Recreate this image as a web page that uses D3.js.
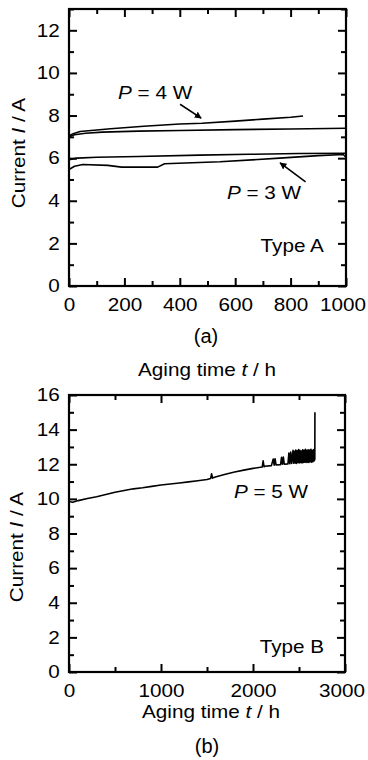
<!DOCTYPE html>
<html>
<head>
<meta charset="utf-8">
<script src="https://cdn.jsdelivr.net/npm/d3@7"></script>
<style>
  body { margin: 0; background: #fff; }
  text { font-family: "Liberation Sans", Arial, Helvetica, sans-serif; }
</style>
</head>
<body>
<div id="root"></div>
<script>
// ---- panel (a): Type A, two lamps at 4 W and 3 W ----
var timeA4hi = [0, 15, 40, 90, 150, 270, 400, 480, 600, 700, 800, 845];
var curA4hi  = [7.05, 7.15, 7.25, 7.31, 7.38, 7.5, 7.6, 7.64, 7.74, 7.83, 7.92, 7.98];

var timeA4lo = [0, 20, 60, 120, 250, 400, 600, 800, 1000];
var curA4lo  = [7.0, 7.1, 7.17, 7.22, 7.27, 7.3, 7.34, 7.37, 7.4];

var timeA3hi = [0, 30, 100, 250, 470, 650, 830, 1000];
var curA3hi  = [5.93, 6.0, 6.04, 6.08, 6.14, 6.18, 6.22, 6.23];

var timeA3lo = [0, 20, 50, 140, 190, 320, 345, 545, 760, 900, 990, 1000];
var curA3lo  = [5.47, 5.62, 5.7, 5.66, 5.58, 5.58, 5.74, 5.83, 6.0, 6.12, 6.17, 6.05];

var xMajorA = [0, 200, 400, 600, 800, 1000];
var xMinorA = [100, 300, 500, 700, 900];
var yMajorA = [0, 2, 4, 6, 8, 10, 12];
var yMinorA = [1, 3, 5, 7, 9, 11, 13];

// ---- panel (b): Type B, 5 W ----
var timeB = [0, 40, 100, 200, 300, 400, 500, 600, 700, 800, 900, 1000, 1100, 1200, 1300, 1400,
  1500, 1540, 1550, 1560, 1600, 1700, 1800, 1900, 2000, 2100, 2110, 2120, 2130, 2200, 2220, 2230,
  2240, 2250, 2300, 2310, 2320, 2330, 2340, 2380, 2390, 2400, 2410, 2420,
  2435, 2442, 2450, 2457, 2465, 2472, 2480, 2487, 2495, 2502, 2510, 2517, 2525, 2532, 2540, 2547,
  2555, 2562, 2570, 2577, 2585, 2592, 2600, 2607, 2615, 2622, 2630, 2637, 2645, 2652, 2660,
  2666, 2672, 2673];
var curB = [9.85, 9.8, 9.9, 10.02, 10.12, 10.25, 10.38, 10.48, 10.58, 10.64, 10.72, 10.8, 10.86, 10.92, 10.98, 11.05,
  11.12, 11.18, 11.45, 11.2, 11.28, 11.42, 11.55, 11.66, 11.76, 11.84, 12.2, 11.86, 11.88, 11.92, 12.3, 11.95,
  12.32, 11.96, 11.98, 12.4, 12.0, 12.42, 12.0, 12.02, 12.65, 12.03, 12.7, 12.05,
  12.8, 12.06, 12.75, 12.08, 12.82, 12.05, 12.78, 12.1, 12.85, 12.07, 12.8, 12.1, 12.76, 12.08, 12.84, 12.1,
  12.8, 12.12, 12.86, 12.1, 12.8, 12.12, 12.84, 12.1, 12.82, 12.14, 12.86, 12.12, 12.8, 12.15, 12.85,
  12.2, 12.3, 15.0];

var xMajorB = [0, 1000, 2000, 3000];
var xMinorB = [500, 1500, 2500];
var yMajorB = [0, 2, 4, 6, 8, 10, 12, 14, 16];
var yMinorB = [1, 3, 5, 7, 9, 11, 13, 15];

var STRETCH = 'scale(1.15,1)';

var svg = d3.select('#root')
  .append('svg')
    .attr('width', 368)
    .attr('height', 760);

svg.append('defs').append('marker')
  .attr('id', 'head')
  .attr('viewBox', '0 0 10 10')
  .attr('refX', 9).attr('refY', 5)
  .attr('markerWidth', 7).attr('markerHeight', 7)
  .attr('markerUnits', 'userSpaceOnUse')
  .attr('orient', 'auto')
  .append('path')
    .attr('d', 'M0,0 L10,5 L0,10 z')
    .attr('fill', '#000');

// text with optional italic pieces: parts = [[str, italic], ...]
function label(g, x, y, parts, anchor, rotate, size) {
  var t = g.append('text')
    .attr('transform', 'translate(' + x + ',' + y + ')' + (rotate ? ' rotate(' + rotate + ')' : '') + ' ' + STRETCH)
    .attr('text-anchor', anchor || 'start')
    .attr('font-size', (size || 18) + 'px')
    .attr('fill', '#000');
  parts.forEach(p => {
    t.append('tspan').attr('font-style', p[1] ? 'italic' : 'normal').text(p[0]);
  });
  return t;
}

function panel(cfg) {
  var x = d3.scaleLinear().domain(cfg.xDomain).range([cfg.left, cfg.right]);
  var y = d3.scaleLinear().domain(cfg.yDomain).range([cfg.bottom, cfg.top]);
  var g = svg.append('g');

  // minor ticks, all four sides, pointing inward
  g.append('g').attr('transform', 'translate(0,' + cfg.bottom + ')')
    .call(d3.axisBottom(x).tickValues(cfg.xMinor).tickSize(-5).tickFormat(''));
  g.append('g').attr('transform', 'translate(0,' + cfg.top + ')')
    .call(d3.axisTop(x).tickValues(cfg.xMinor).tickSize(-5).tickFormat(''));
  g.append('g').attr('transform', 'translate(' + cfg.left + ',0)')
    .call(d3.axisLeft(y).tickValues(cfg.yMinor).tickSize(-5).tickFormat(''));
  g.append('g').attr('transform', 'translate(' + cfg.right + ',0)')
    .call(d3.axisRight(y).tickValues(cfg.yMinor).tickSize(-5).tickFormat(''));

  // major ticks
  g.append('g').attr('class', 'x-axis').attr('transform', 'translate(0,' + cfg.bottom + ')')
    .call(d3.axisBottom(x).tickValues(cfg.xMajor).tickSize(-8).tickPadding(12).tickFormat(d3.format('d')));
  g.append('g').attr('transform', 'translate(0,' + cfg.top + ')')
    .call(d3.axisTop(x).tickValues(cfg.xMajor).tickSize(-8).tickFormat(''));
  g.append('g').attr('class', 'y-axis').attr('transform', 'translate(' + cfg.left + ',0)')
    .call(d3.axisLeft(y).tickValues(cfg.yMajor).tickSize(-8).tickPadding(8).tickFormat(d3.format('d')));
  g.append('g').attr('transform', 'translate(' + cfg.right + ',0)')
    .call(d3.axisRight(y).tickValues(cfg.yMajor).tickSize(-8).tickFormat(''));

  g.selectAll('.domain').remove();
  g.selectAll('.tick line').attr('stroke', '#000').attr('stroke-width', 2);
  g.selectAll('.x-axis text, .y-axis text')
    .attr('font-size', '18px')
    .attr('font-family', '"Liberation Sans", Arial, sans-serif')
    .attr('fill', '#000')
    .attr('transform', STRETCH);
  // the last x label sits at the page edge: nudge it inward a little
  g.selectAll('.x-axis .tick text')
    .filter(d => d === cfg.xDomain[1])
    .attr('x', -3);

  g.append('rect')
    .attr('x', cfg.left).attr('y', cfg.top)
    .attr('width', cfg.right - cfg.left).attr('height', cfg.bottom - cfg.top)
    .attr('fill', 'none').attr('stroke', '#000').attr('stroke-width', 2.2);

  return { g: g, x: x, y: y };
}

function curve(p, times, values, w) {
  var line = d3.line().x(d => p.x(d[0])).y(d => p.y(d[1]));
  p.g.append('path')
    .datum(d3.zip(times, values))
    .attr('d', line)
    .attr('fill', 'none')
    .attr('stroke', '#000')
    .attr('stroke-width', w || 1.6)
    .attr('stroke-linejoin', 'round');
}

function arrow(p, t0, i0, t1, i1) {
  p.g.append('line')
    .attr('x1', p.x(t0)).attr('y1', p.y(i0))
    .attr('x2', p.x(t1)).attr('y2', p.y(i1))
    .attr('stroke', '#000').attr('stroke-width', 1.6)
    .attr('marker-end', 'url(#head)');
}

// ---- (a) ----
var a = panel({
  xDomain: [0, 1000], yDomain: [0, 13],
  left: 69, right: 346, top: 9, bottom: 286,
  xMajor: xMajorA, xMinor: xMinorA, yMajor: yMajorA, yMinor: yMinorA
});
curve(a, timeA4hi, curA4hi);
curve(a, timeA4lo, curA4lo);
curve(a, timeA3hi, curA3hi);
curve(a, timeA3lo, curA3lo);

label(a.g, a.x(177), a.y(8.77), [['P', true], [' = 4 W', false]]);
arrow(a, 401, 8.53, 477, 7.88);
label(a.g, a.x(570), a.y(4.08), [['P', true], [' = 3 W', false]]);
arrow(a, 854, 4.89, 762, 5.78);
label(a.g, a.x(920), a.y(1.59), [['Type A', false]], 'end');

label(svg, 25, 153, [['Current ', false], ['I', true], [' / A', false]], 'middle', -90);
label(svg, 207, 376, [['Aging time ', false], ['t', true], [' / h', false]], 'middle');
svg.append('text')
  .attr('x', 206).attr('y', 343)
  .attr('text-anchor', 'middle')
  .attr('font-family', '"Liberation Serif", "Times New Roman", serif')
  .attr('font-size', '20px')
  .text('(a)');

// ---- (b) ----
var b = panel({
  xDomain: [0, 3000], yDomain: [0, 16],
  left: 69, right: 345, top: 395, bottom: 672,
  xMajor: xMajorB, xMinor: xMinorB, yMajor: yMajorB, yMinor: yMinorB
});
curve(b, timeB, curB, 1.6);

label(b.g, b.x(1793), b.y(10.03), [['P', true], [' = 5 W', false]]);
label(b.g, b.x(2772), b.y(1.1), [['Type B', false]], 'end');

label(svg, 23, 547, [['Current ', false], ['I', true], [' / A', false]], 'middle', -90);
label(svg, 211, 718, [['Aging time ', false], ['t', true], [' / h', false]], 'middle');
svg.append('text')
  .attr('x', 207).attr('y', 753)
  .attr('text-anchor', 'middle')
  .attr('font-family', '"Liberation Serif", "Times New Roman", serif')
  .attr('font-size', '20px')
  .text('(b)');
</script>
</body>
</html>
